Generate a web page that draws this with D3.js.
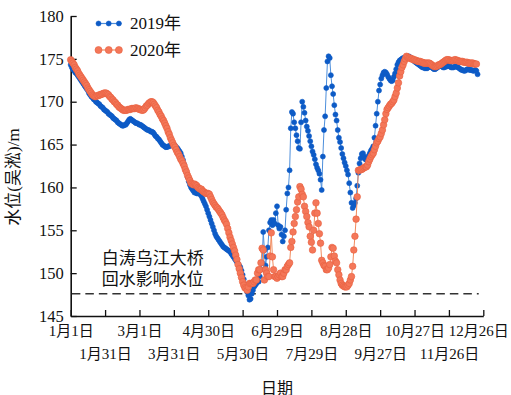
<!DOCTYPE html>
<html>
<head>
<meta charset="utf-8">
<script src="https://cdn.jsdelivr.net/npm/d3@7"></script>
<style>
  body { margin: 0; background: #fff; }
  svg { display: block; }
  svg text { font-family: "Times New Roman", "Liberation Serif", "DejaVu Serif", "Noto Sans CJK SC", serif; fill: #111; }
</style>
</head>
<body>
<svg id="chart" width="511" height="395"></svg>
<script>
// Daily water level (Wusong datum, m), index = days since 1 January
const seriesNames = ["2019年", "2020年"];

const lvl2019 = [
  // Jan
  174.3,174.0,173.8,173.6,173.4,173.3,173.1,172.9,172.7,172.5,172.3,172.1,171.9,171.7,171.5,171.3,171.0,170.8,170.6,170.5,170.3,170.2,
  170.0,169.9,169.8,169.7,169.5,169.4,169.3,169.1,169.0,168.9,168.8,168.6,168.5,168.4,168.3,168.1,168.0,167.9,167.8,167.6,167.5,167.4,167.3,
  // Feb
  167.2,167.2,167.3,167.3,167.5,167.7,167.9,168.0,167.9,
  167.8,167.7,167.6,167.5,167.5,167.4,167.3,167.3,167.2,167.1,167.0,166.9,166.8,166.7,166.7,166.6,166.5,166.5,166.4,
  // Mar
  166.2,166.0,165.9,165.7,165.6,165.4,165.2,165.0,164.9,164.8,
  164.7,164.7,164.8,164.8,164.9,164.9,165.0,165.0,164.9,
  // Apr
  164.7,164.6,164.4,164.2,164.0,163.6,163.2,162.7,162.2,161.7,161.2,160.7,160.3,160.0,159.8,159.6,159.4,
  159.4,159.3,159.3,159.3,159.2,159.0,158.7,158.4,158.1,
  // May
  157.8,157.4,157.0,156.6,156.2,155.8,155.4,155.0,154.6,154.3,
  154.1,153.9,153.7,153.5,153.3,153.1,153.0,152.9,152.8,152.7,152.6,152.5,
  152.3,152.1,151.9,151.7,151.5,151.3,151.1,150.9,150.7,
  150.3,149.8,149.3,148.7,148.2,147.8,147.4,146.9,
  // Jun
  147.0,147.6,148.0,148.4,148.6,148.8,149.0,149.0,149.6,150.4,151.2,154.8,152.7,150.9,151.9,153.0,155.0,155.9,156.2,155.6,
  156.2,155.8,157.0,157.8,155.6,155.2,155.4,154.5,153.7,154.3,155.0,157.4,159.3,160.0,162.0,
  // Jul
  166.9,168.8,168.6,167.6,166.9,166.1,165.4,164.6,164.5,167.6,170.0,169.4,168.7,167.8,167.1,166.6,166.0,165.4,164.8,164.2,
  163.8,163.3,162.7,162.3,162.0,161.6,160.9,159.7,163.6,166.7,168.3,171.6,174.7,175.3,175.1,
  // Aug
  173.1,171.8,170.9,169.6,168.5,167.8,166.7,165.8,165.3,164.6,163.9,163.4,162.9,162.5,162.0,161.5,160.5,159.4,158.2,157.6,
  157.9,158.2,158.7,160.2,161.7,162.8,163.4,163.9,164.0,163.6,163.3,163.2,163.4,163.7,164.0,164.3,164.5,164.8,
  // Sep / Oct
  165.8,167.2,168.6,170.0,171.3,172.0,172.7,173.1,173.4,173.5,173.4,173.2,172.9,172.7,172.5,172.4,172.5,172.9,173.3,173.8,
  174.3,174.6,174.8,174.9,175.0,175.1,175.1,175.2,175.2,175.2,175.3,175.2,175.1,175.0,174.9,
  // Nov / Dec
  174.7,174.6,174.5,174.4,174.3,174.2,174.1,174.0,174.0,173.9,173.9,173.9,174.0,174.1,174.1,174.0,173.9,173.8,173.8,173.9,
  174.0,174.1,174.2,174.2,174.1,174.0,174.0,174.1,174.1,174.2,174.2,174.1,174.0,174.0,174.0,174.1,174.1,174.1,174.0,173.9,
  173.8,173.7,173.7,173.6,173.6,173.7,173.8,173.8,173.7,173.7,173.7,173.6,173.6,173.7,173.6,173.2
];

const lvl2020 = [
  // Jan
  174.9,174.7,174.5,174.3,174.0,173.8,173.6,173.3,173.1,172.9,172.7,172.5,172.3,172.1,171.9,171.6,171.4,171.2,171.0,170.8,
  170.7,170.6,170.6,170.7,170.7,170.8,170.8,170.9,170.9,171.0,171.0,171.0,
  // Feb
  170.9,170.8,170.6,170.5,170.3,170.2,170.0,169.9,169.7,169.6,169.4,169.3,169.2,169.1,169.0,169.0,169.0,169.0,
  169.1,169.1,169.1,169.2,169.2,169.2,169.2,169.3,169.2,169.2,169.1,169.1,169.0,169.0,
  // Mar
  169.1,169.3,169.5,169.6,169.8,169.9,170.0,170.0,169.9,169.7,169.5,169.3,169.0,168.8,168.5,168.3,168.0,167.8,167.5,167.2,
  166.9,166.5,166.2,165.8,165.5,165.2,164.9,
  // Apr
  164.7,164.4,164.1,163.9,163.6,163.3,163.1,162.8,162.5,162.1,161.8,161.4,161.1,160.8,160.5,160.4,160.3,160.4,160.3,160.2,
  160.0,159.9,159.8,159.8,159.6,159.5,159.4,159.3,159.3,159.3,159.2,
  // May
  158.9,158.6,158.3,158.1,157.9,157.7,157.6,157.4,157.2,157.0,156.8,156.5,156.2,156.0,155.7,155.2,154.7,154.2,153.8,153.4,
  153.0,152.6,152.1,151.6,151.0,150.5,150.0,149.5,149.0,148.6,148.3,148.2,148.0,
  // Jun
  148.4,148.8,148.8,148.8,148.8,149.0,149.2,149.2,150.0,150.4,150.4,151.2,152.9,152.7,149.2,150.4,150.0,149.6,149.6,152.0,
  154.7,151.9,150.4,149.6,149.6,149.4,149.6,149.8,150.0,149.6,149.6,150.0,150.4,150.4,150.8,151.0,151.2,
  // Jul
  153.0,153.7,154.8,155.8,156.6,157.4,158.3,158.9,160.1,159.8,159.2,158.9,157.8,157.2,156.6,155.9,155.4,154.3,153.6,152.7,
  155.0,157.0,158.2,157.0,155.8,154.6,153.5,151.5,151.2,150.9,150.8,150.4,150.4,150.6,151.0,
  // Aug
  151.9,153.0,152.9,152.0,151.4,151.2,150.4,149.8,149.2,148.8,148.6,148.5,148.4,148.4,148.4,148.6,148.8,149.2,149.6,150.8,
  152.7,154.3,156.3,158.9,162.0,162.0,162.1,162.1,162.2,162.3,162.4,162.4,162.6,163.0,163.3,163.6,163.8,164.0,
  // Sep / Oct
  164.4,164.8,165.2,165.4,165.7,165.9,166.3,166.7,167.3,167.9,168.6,169.1,169.3,169.5,169.7,169.8,170.0,170.2,170.6,171.0,
  171.6,172.2,173.0,173.5,174.0,174.3,174.7,175.0,175.3,175.2,175.1,175.1,175.0,175.0,174.9,
  // Nov / Dec
  174.9,174.8,174.8,174.7,174.7,174.7,174.6,174.6,174.5,174.5,174.5,174.5,174.5,174.5,174.4,174.3,174.2,174.1,174.1,174.1,
  174.2,174.3,174.3,174.4,174.5,174.6,174.7,174.8,174.9,174.9,174.9,174.8,174.8,174.8,174.8,174.9,174.9,174.8,174.8,174.7,
  174.7,174.7,174.7,174.6,174.6,174.6,174.6,174.5,174.5,174.5,174.5,174.5,174.4,174.4,174.4
];

// x-axis ticks every 30 days, labels alternate between two rows
const tickDays = [0, 30, 60, 90, 120, 150, 180, 210, 240, 270, 300, 330, 360];
const tickLabels = ["1月1日", "1月31日", "3月1日", "3月31日", "4月30日", "5月30日", "6月29日",
                    "7月29日", "8月28日", "9月27日", "10月27日", "11月26日", "12月26日"];
const levelTicks = [145, 150, 155, 160, 165, 170, 175, 180];

const backwaterLevel = 147.6;
const noteLines = ["白涛乌江大桥", "回水影响水位"];
const xTitle = "日期";
const yTitle = "水位(吴淞)/m";

const colors = {
  blue: "#0d5bc6", blueLine: "#4d8fdc",
  orange: "#f47759", orangeEdge: "#e8603f", orangeLine: "#f28a5c"
};
const fontStack = '"Times New Roman", "Liberation Serif", "DejaVu Serif", "Noto Sans CJK SC", serif';

const svg = d3.select("#chart");
const x = d3.scaleLinear().domain([0, 360]).range([70.7, 483.3]);
const y = d3.scaleLinear().domain([145, 180]).range([316, 16]);

// axes
const xAxis = svg.append("g").attr("transform", `translate(0,${y(145)})`)
  .call(d3.axisBottom(x).tickValues(tickDays).tickSize(-6).tickSizeOuter(0)
    .tickFormat((d, i) => tickLabels[i]));
xAxis.selectAll("text")
  .attr("dy", null)
  .attr("dominant-baseline", "central")
  .attr("y", (d, i) => i % 2 === 0 ? 15 : 38)
  .attr("x", (d, i) => i === tickLabels.length - 1 ? -5 : 0)
  .style("font-size", "15px");

const yAxis = svg.append("g").attr("transform", `translate(${x(0)},0)`)
  .call(d3.axisLeft(y).tickValues(levelTicks).tickSize(-6).tickSizeOuter(0).tickPadding(7));
yAxis.selectAll("text").style("font-size", "16.5px");

svg.selectAll("g").attr("font-family", null);
svg.selectAll(".domain").attr("stroke", "#111").attr("stroke-width", 1.6);
svg.selectAll(".tick line").attr("stroke", "#111").attr("stroke-width", 1.3);
svg.selectAll(".tick text").attr("fill", "#111");

// backwater reference line
svg.append("line")
  .attr("x1", x(1)).attr("x2", x(356))
  .attr("y1", y(backwaterLevel)).attr("y2", y(backwaterLevel))
  .attr("stroke", "#333").attr("stroke-width", 1.5).attr("stroke-dasharray", "8.5,5");

svg.selectAll(".note").data(noteLines).enter().append("text")
  .attr("x", 101.7).attr("y", (d, i) => 258.5 + i * 21)
  .attr("dominant-baseline", "central")
  .style("font-size", "17px").text(d => d);

// series
const line = d3.line().x((d, i) => x(i)).y(d => y(d));

function drawSeries(values, stroke, fill, edge, r) {
  const g = svg.append("g");
  g.append("path").datum(values).attr("d", line)
    .attr("fill", "none").attr("stroke", stroke).attr("stroke-width", 1);
  g.selectAll("circle").data(values).enter().append("circle")
    .attr("cx", (d, i) => x(i)).attr("cy", d => y(d)).attr("r", r)
    .attr("fill", fill).attr("stroke", edge).attr("stroke-width", 0.6);
}
drawSeries(lvl2019, colors.blueLine, colors.blue, colors.blue, 2.5);
drawSeries(lvl2020, colors.orangeLine, colors.orange, colors.orangeEdge, 3.3);

// legend
const legend = [
  { name: seriesNames[0], stroke: colors.blueLine, fill: colors.blue, edge: colors.blue, r: 2.5, cy: 23.5 },
  { name: seriesNames[1], stroke: colors.orangeLine, fill: colors.orange, edge: colors.orangeEdge, r: 3.5, cy: 50 }
];
legend.forEach(l => {
  const g = svg.append("g");
  g.append("line").attr("x1", 96.5).attr("x2", 121.5).attr("y1", l.cy).attr("y2", l.cy)
    .attr("stroke", l.stroke).attr("stroke-width", 1.2);
  [98.5, 108.7, 118.9].forEach(cx => g.append("circle").attr("cx", cx).attr("cy", l.cy).attr("r", l.r)
    .attr("fill", l.fill).attr("stroke", l.edge).attr("stroke-width", 0.6));
  g.append("text").attr("x", 130).attr("y", l.cy).attr("dominant-baseline", "central")
    .style("font-size", "17px").text(l.name);
});

// axis titles
svg.append("text").attr("x", x(180)).attr("y", 388).attr("text-anchor", "middle")
  .attr("dominant-baseline", "central").style("font-size", "16px").text(xTitle);
svg.append("text").attr("transform", "translate(13,177) rotate(-90)")
  .attr("text-anchor", "middle").attr("dominant-baseline", "central")
  .style("font-size", "17px").text(yTitle);

svg.selectAll("text").style("font-family", fontStack);
</script>
</body>
</html>
